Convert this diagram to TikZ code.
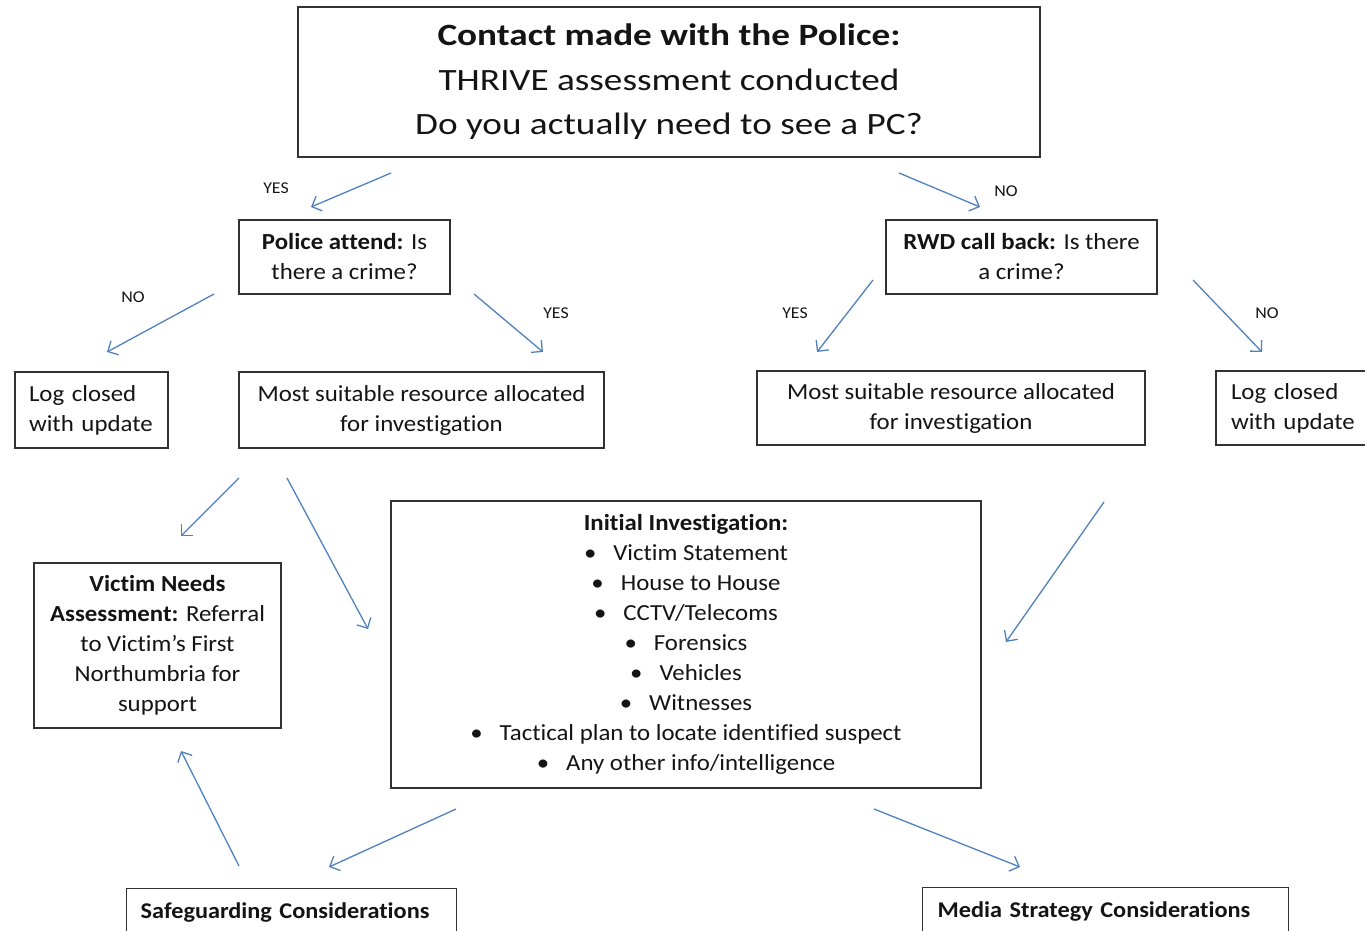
\documentclass[tikz,border=0pt]{standalone}
\usepackage{fontspec}
\setmainfont{Carlito}[FakeStretch=1.08,Ligatures=NoCommon]
\newfontfamily\titlefont{Carlito}[FakeStretch=1.2,Ligatures=NoCommon]
\usetikzlibrary{arrows.meta}
\definecolor{arr}{RGB}{79,129,189}
\definecolor{txt}{RGB}{20,20,20}
\definecolor{bord}{RGB}{50,50,50}
\begin{document}
\begin{tikzpicture}[x=1pt,y=-1pt,
  box/.style={draw=bord, line width=1.3pt, align=center, inner sep=0pt, text=txt,
    font=\fontsize{23pt}{30pt}\selectfont},
  lbox/.style={box, align=left},
  conn/.style={draw=arr, line width=1.3pt, -{Straight Barb[length=8pt,width=16pt,line width=1.3pt]}},
  lbl/.style={font=\fontsize{16.5pt}{18pt}\selectfont, inner sep=0pt, text=txt}]
\useasboundingbox (0,0) rectangle (1365,931);
\clip (0,0) rectangle (1365,931);

% boxes
\node[box, minimum width=742pt, minimum height=150pt,
  font=\titlefont\fontsize{31pt}{44.5pt}\selectfont] (top) at (669,82)
  {\textbf{Contact made with the Police:}\\THRIVE assessment conducted\\Do you actually need to see a PC?};
\node[box, minimum width=211pt, minimum height=74pt] (police) at (344.5,257)
  {\textbf{Police attend:} Is\\there a crime?};
\node[box, minimum width=271pt, minimum height=74pt] (rwd) at (1021.5,257)
  {\textbf{RWD call back:} Is there\\a crime?};
\node[lbox, text width=125pt, minimum width=153pt, minimum height=76pt] (logL) at (91.5,410)
  {Log closed\\with update};
\node[box, minimum width=365pt, minimum height=76pt] (resL) at (421.5,410)
  {Most suitable resource allocated\\for investigation};
\node[box, minimum width=388pt, minimum height=74pt] (resR) at (951,408)
  {Most suitable resource allocated\\for investigation};
\node[lbox, text width=134pt, minimum width=164pt, minimum height=74pt] (logR) at (1298,408)
  {Log closed\\with update};
\node[box, minimum width=590pt, minimum height=287pt] (init) at (686,644.5)
  {\textbf{Initial Investigation:}\\
   •\hspace{17pt}Victim Statement\\
   •\hspace{17pt}House to House\\
   •\hspace{17pt}CCTV/Telecoms\\
   •\hspace{17pt}Forensics\\
   •\hspace{17pt}Vehicles\\
   •\hspace{17pt}Witnesses\\
   •\hspace{17pt}Tactical plan to locate identified suspect\\
   •\hspace{17pt}Any other info/intelligence};
\node[box, minimum width=247pt, minimum height=165pt] (victim) at (157.5,645.5)
  {\textbf{Victim Needs}\\\textbf{Assessment:} Referral\\to Victim’s First\\Northumbria for\\support};
\node[lbox, anchor=north west, inner xsep=14pt, inner ysep=8pt, text width=302pt,
  text height=22pt, text depth=50pt, font=\bfseries\fontsize{22.5pt}{26pt}\selectfont] (safe) at (126,888)
  {Safeguarding Considerations};
\node[lbox, anchor=north west, inner xsep=15pt, inner ysep=8pt, text width=336pt,
  text height=22pt, text depth=50pt, font=\bfseries\fontsize{22.5pt}{26pt}\selectfont] (media) at (922,887)
  {Media Strategy Considerations};

% labels
\node[lbl] (l1) at (276,188) {YES};
\node[lbl] (l2) at (1006,191) {NO};
\node[lbl] (l3) at (133,297) {NO};
\node[lbl] (l4) at (556,313) {YES};
\node[lbl] (l5) at (795,313) {YES};
\node[lbl] (l6) at (1267,313) {NO};

% connector end points
\coordinate (a1s) at (391,173); \coordinate (a1e) at (311,207);
\coordinate (a2s) at (899,173); \coordinate (a2e) at (980,207);
\coordinate (a3s) at (214,294); \coordinate (a3e) at (107,352);
\coordinate (a4s) at (474,294); \coordinate (a4e) at (543,352);
\coordinate (a5s) at (873,280); \coordinate (a5e) at (817,352);
\coordinate (a6s) at (1193,280); \coordinate (a6e) at (1262,352);
\coordinate (a7s) at (239,478); \coordinate (a7e) at (181,536);
\coordinate (a8s) at (287,478); \coordinate (a8e) at (368,629);
\coordinate (a9s) at (1104,502); \coordinate (a9e) at (1006,642);
\coordinate (a10s) at (239,866); \coordinate (a10e) at (181,751);
\coordinate (a11s) at (456,809); \coordinate (a11e) at (329,867);
\coordinate (a12s) at (874,809); \coordinate (a12e) at (1020,867);

\foreach \i in {1,...,12} \draw[conn] (a\i s) -- (a\i e);
\end{tikzpicture}
\end{document}
